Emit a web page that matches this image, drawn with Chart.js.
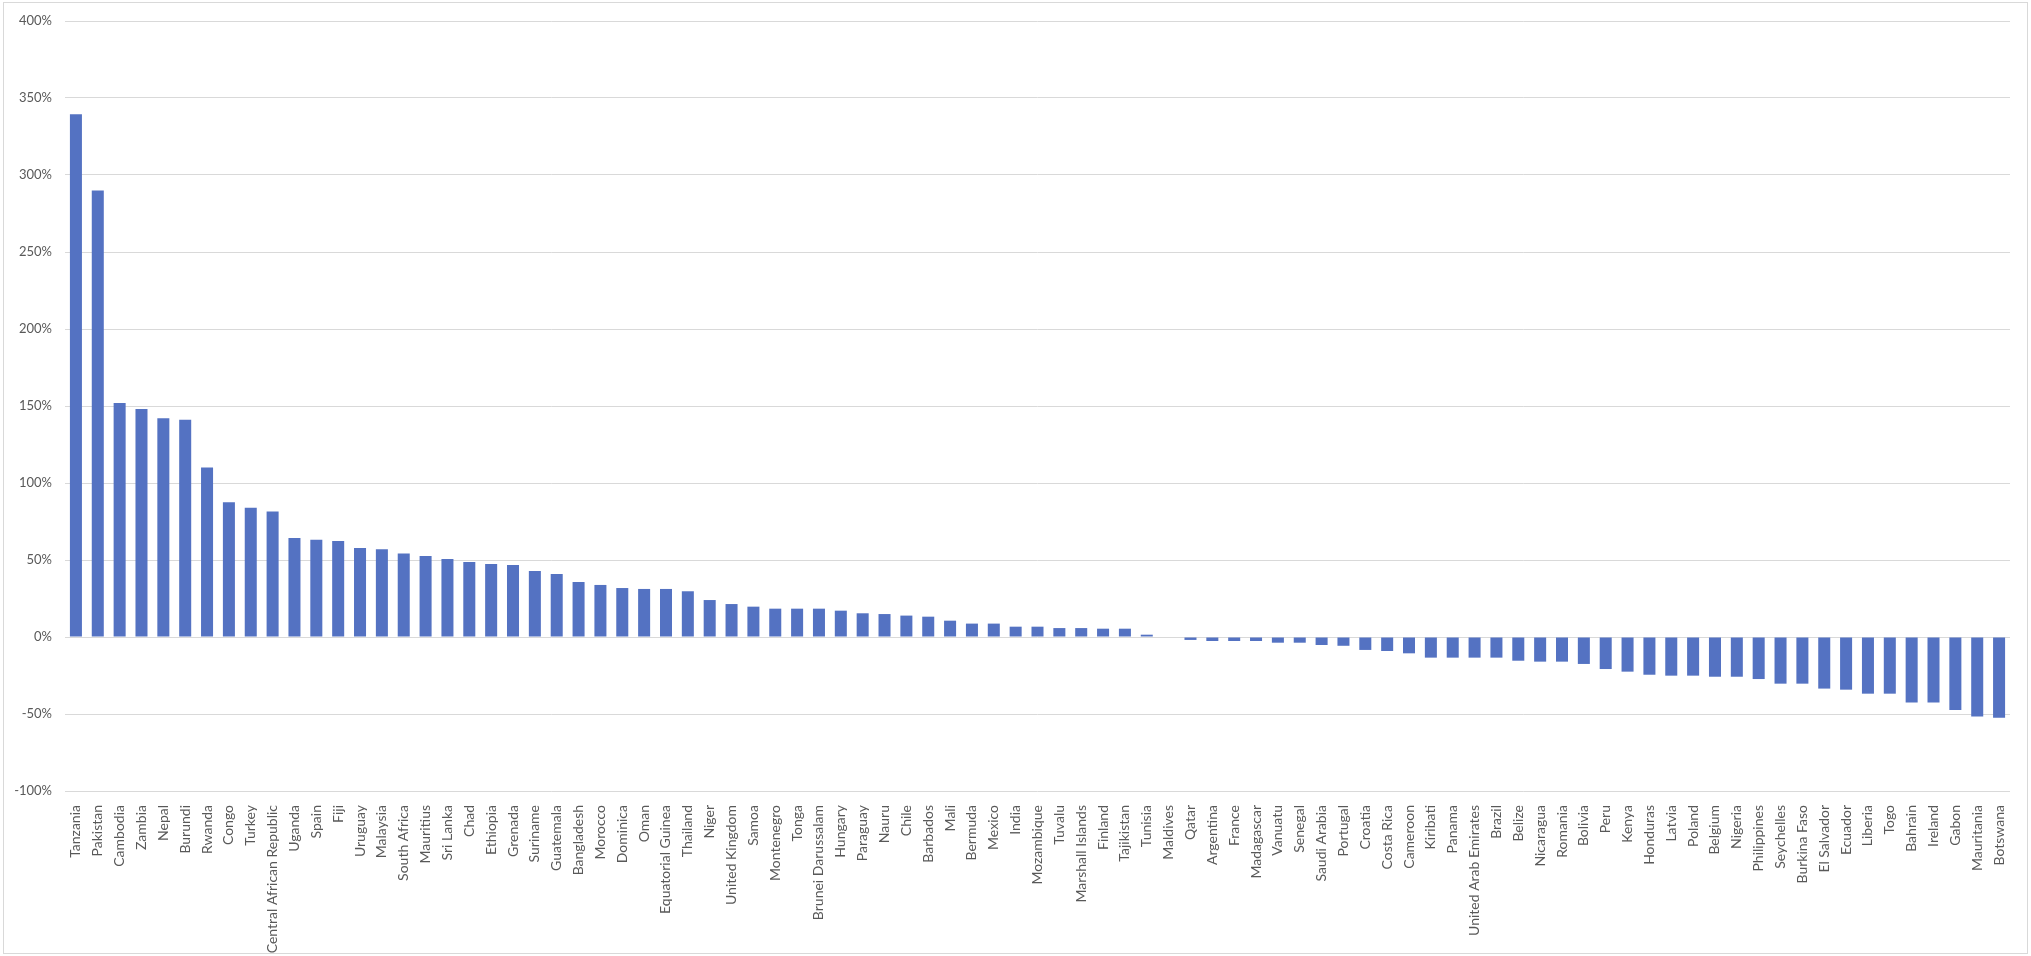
<!DOCTYPE html>
<html>
<head>
<meta charset="utf-8">
<title>Change by country</title>
<script src="https://cdn.jsdelivr.net/npm/chart.js@4.4.1/dist/chart.umd.min.js"></script>
<style>
  html, body { margin: 0; padding: 0; background: #ffffff; }
  #wrap { width: 2031px; height: 956px; position: relative; }
</style>
</head>
<body>
<div id="wrap"><canvas id="chart-bar"></canvas></div>
<script>
var countries = [
  'Tanzania', 'Pakistan', 'Cambodia', 'Zambia', 'Nepal', 'Burundi', 'Rwanda', 'Congo', 'Turkey',
  'Central African Republic', 'Uganda', 'Spain', 'Fiji', 'Uruguay', 'Malaysia', 'South Africa',
  'Mauritius', 'Sri Lanka', 'Chad', 'Ethiopia', 'Grenada', 'Suriname', 'Guatemala', 'Bangladesh',
  'Morocco', 'Dominica', 'Oman', 'Equatorial Guinea', 'Thailand', 'Niger', 'United Kingdom', 'Samoa',
  'Montenegro', 'Tonga', 'Brunei Darussalam', 'Hungary', 'Paraguay', 'Nauru', 'Chile', 'Barbados',
  'Mali', 'Bermuda', 'Mexico', 'India', 'Mozambique', 'Tuvalu', 'Marshall Islands', 'Finland',
  'Tajikistan', 'Tunisia', 'Maldives', 'Qatar', 'Argentina', 'France', 'Madagascar', 'Vanuatu',
  'Senegal', 'Saudi Arabia', 'Portugal', 'Croatia', 'Costa Rica', 'Cameroon', 'Kiribati', 'Panama',
  'United Arab Emirates', 'Brazil', 'Belize', 'Nicaragua', 'Romania', 'Bolivia', 'Peru', 'Kenya',
  'Honduras', 'Latvia', 'Poland', 'Belgium', 'Nigeria', 'Philippines', 'Seychelles', 'Burkina Faso',
  'El Salvador', 'Ecuador', 'Liberia', 'Togo', 'Bahrain', 'Ireland', 'Gabon', 'Mauritania', 'Botswana'
];

// change in percent
var change = [
  339.5, 290, 152, 148, 142, 141, 110, 87.5, 84, 81.5,
  64.3, 63.2, 62.3, 57.8, 56.9, 54.3, 52.6, 50.6, 48.7, 47.4,
  46.8, 42.9, 40.9, 35.7, 33.8, 31.8, 31.2, 31.2, 29.7, 24,
  21.4, 19.7, 18.4, 18.4, 18.4, 17.1, 15.4, 14.9, 13.9, 13.2,
  10.6, 8.7, 8.7, 6.7, 6.7, 5.8, 5.8, 5.4, 5.4, 1.5,
  0, -1.9, -2.6, -2.6, -2.6, -3.7, -3.7, -5.2, -5.7, -8.4,
  -9.1, -10.6, -13.4, -13.4, -13.4, -13.4, -15.4, -16, -16, -17.5,
  -20.8, -22.5, -24.5, -25.1, -25.1, -25.8, -25.8, -27.3, -30.3, -30.3,
  -33.5, -34.2, -36.8, -36.8, -42.6, -42.6, -47.4, -51.7, -52.4
];

var yMin = -100;
var yMax = 400;
var yStep = 50;

var frame = {
  id: 'frame',
  beforeDraw: function (chart) {
    var ctx = chart.ctx;
    ctx.save();
    ctx.fillStyle = '#ffffff';
    ctx.fillRect(0, 0, chart.width, chart.height);
    ctx.strokeStyle = '#d9d9d9';
    ctx.lineWidth = 1;
    ctx.strokeRect(3.5, 2.5, chart.width - 7, chart.height - 5);
    ctx.restore();
  }
};

window.onload = function () {
  drawChart();
};

function drawChart() {
  new Chart(document.getElementById('chart-bar'), {
    type: 'bar',
    data: {
      labels: countries,
      datasets: [
        {
          label: 'Change',
          data: change,
          backgroundColor: '#5472c2',
          borderWidth: 0,
          categoryPercentage: 1,
          barPercentage: 0.55
        }
      ]
    },
    options: {
      responsive: true,
      maintainAspectRatio: false,
      animation: false,
      layout: {
        padding: { top: 21, right: 21, bottom: 0, left: 0 }
      },
      plugins: {
        legend: { display: false },
        tooltip: { enabled: false }
      },
      scales: {
        x: {
          grid: { display: false },
          border: { display: false },
          ticks: {
            autoSkip: false,
            minRotation: 90,
            maxRotation: 90,
            padding: 6,
            color: '#595959',
            font: { family: 'Lato', size: 14 }
          },
          afterFit: function (scale) {
            scale.height = 165;
          }
        },
        y: {
          min: yMin,
          max: yMax,
          grid: { color: '#d9d9d9', drawTicks: false },
          border: { display: false },
          ticks: {
            stepSize: yStep,
            padding: 13,
            color: '#595959',
            font: { family: 'Lato', size: 13 },
            callback: function (v) { return v + '%'; }
          },
          afterFit: function (scale) {
            scale.width = 65;
          }
        }
      }
    },
    plugins: [frame]
  });
}
</script>
</body>
</html>
